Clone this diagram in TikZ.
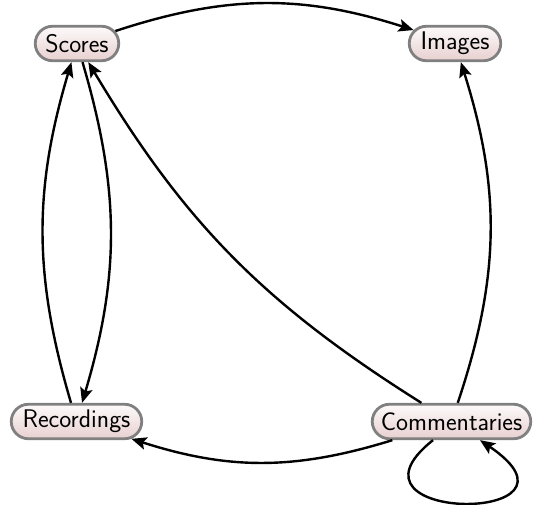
\documentclass[tikz,border=0pt]{standalone}
\usetikzlibrary{arrows.meta,shapes.misc}
\definecolor{nodetop}{RGB}{253,250,250}
\definecolor{nodebot}{RGB}{232,208,208}
\definecolor{nodeborder}{RGB}{128,128,128}
\tikzset{
  box/.style={rounded rectangle, draw=nodeborder, line width=2.8pt,
    top color=nodetop, bottom color=nodebot, minimum height=34.5pt,
    inner xsep=3pt, inner ysep=0pt,
    font=\sffamily\fontsize{25.5}{30}\selectfont},
  link/.style={line width=2.4pt, -{Stealth[length=15pt,width=12.5pt,inset=3pt]}},
}
\begin{document}
\begin{tikzpicture}[x=1pt,y=1pt]
\useasboundingbox (0,0) rectangle (540,-504);
\node[box, minimum width=89.5pt]  (sc) at (77,-43.5)    {Scores};
\node[box, minimum width=97.5pt]  (im) at (455,-43.5)   {Images};
\node[box, minimum width=136.5pt] (re) at (76.5,-421.5) {Recordings};
\node[box, minimum width=164.5pt] (co) at (451.5,-421.5) {Commentaries};
\draw[link] (sc) to[bend left=18] (im);
\draw[link] (sc) to[bend left=16.5] (re);
\draw[link] (re) to[bend left=16.5] (sc);
\draw[link] (co) to[bend left=13.5] (sc);
\draw[link] (co) to[bend right=18] (im);
\draw[link] (co) to[bend left=17.5] (re);
\draw[link] ([xshift=-18.5pt]co.south) .. controls +(-106,-84) and +(124,-84) .. ([xshift=28.5pt]co.south);
\end{tikzpicture}
\end{document}
